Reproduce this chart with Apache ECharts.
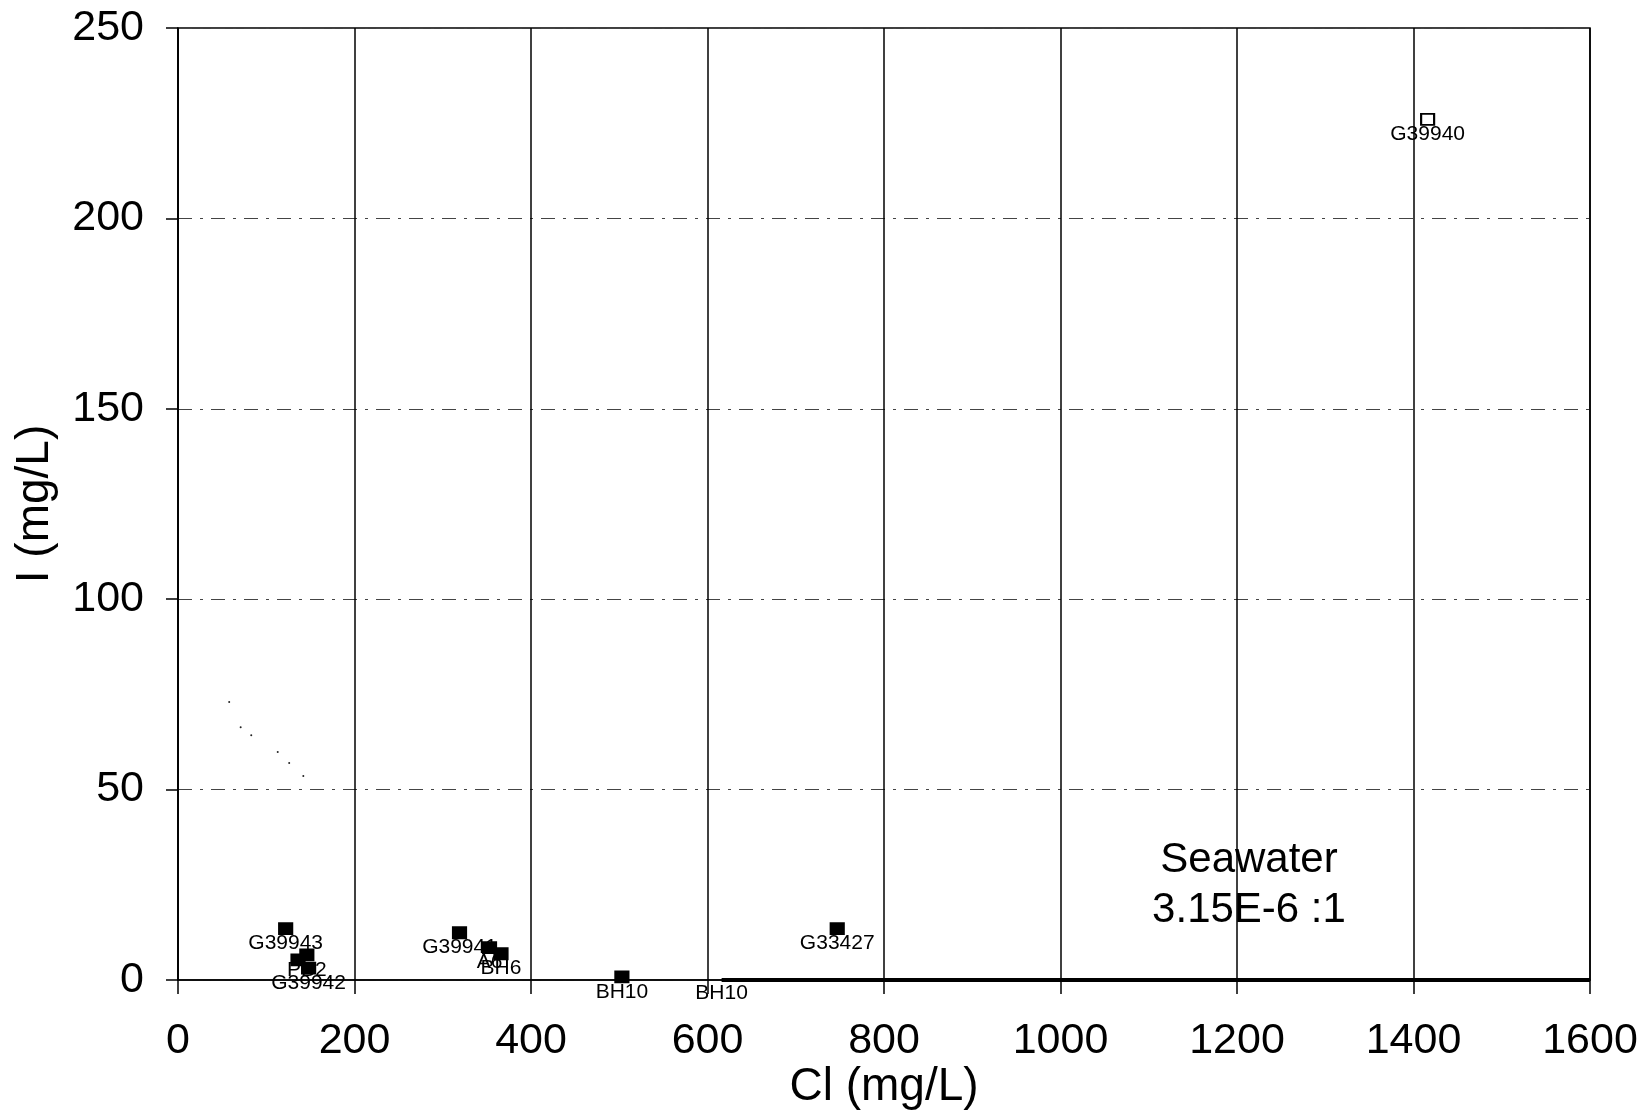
<!DOCTYPE html>
<html style="height: 100%">
<head>
<meta charset="utf-8">
<script src="https://cdn.jsdelivr.net/npm/echarts@6/dist/echarts.min.js"></script>
</head>
<body style="height: 100%; margin: 0; background: #fff">
<div id="container" style="width: 1643px; height: 1111px"></div>
<script type="text/javascript">
// sample points: Cl (mg/L), I (mg/L), label
var sampleNames = ['G39940', 'G39943', 'G39941', 'A6', 'BH6', 'BH10', 'G33427', '', 'PB2', 'G39942'];
var sampleCl    = [1416, 122, 319, 353, 366, 503, 747, 136, 146, 148];
var sampleI     = [226, 13.5, 12.4, 8.5, 6.9, 0.8, 13.5, 5.3, 6.6, 3.1];
var sampleFill  = ['#fff', '#000', '#000', '#000', '#000', '#000', '#000', '#000', '#000', '#000'];

// seawater ratio line (I/Cl = 3.15E-6)
var seaCl = [616, 1600];
var seaI  = [0.002, 0.005];
var seaLabel = 'BH10';

// faint dots upper left
var dotCl = [58, 71, 83, 113, 126, 142];
var dotI  = [73, 66.4, 64.3, 59.9, 57, 53.6];

var xTicks = [0, 200, 400, 600, 800, 1000, 1200, 1400, 1600];
var yTicks = [0, 50, 100, 150, 200, 250];

var font = 'Liberation Sans, Arial, sans-serif';

var samples = sampleNames.map(function (n, i) {
    return {
        name: n,
        value: [sampleCl[i], sampleI[i]],
        itemStyle: {color: sampleFill[i]}
    };
});

var chart = echarts.init(document.getElementById('container'));
var option = {
    backgroundColor: '#fff',
    animation: false,
    grid: {
        left: 178, right: 53, top: 28, bottom: 131,
        outerBoundsMode: 'none',
        containLabel: false,
        show: true, borderColor: '#000', borderWidth: 1.5
    },
    xAxis: {
        type: 'value',
        min: xTicks[0], max: xTicks[xTicks.length - 1], interval: 200,
        name: 'Cl (mg/L)',
        nameLocation: 'middle',
        nameGap: 84,
        nameMoveOverlap: false,
        nameTextStyle: {fontFamily: font, fontSize: 46, color: '#000'},
        axisLine: {lineStyle: {color: '#000', width: 1.5}},
        axisTick: {show: true, length: 14, inside: false, lineStyle: {color: '#000', width: 1.5}},
        axisLabel: {fontFamily: font, fontSize: 43, color: '#000', margin: 40,
            formatter: function (v) { return String(v); }},
        splitLine: {show: true, lineStyle: {color: '#000', width: 1.5}}
    },
    yAxis: {
        type: 'value',
        min: yTicks[0], max: yTicks[yTicks.length - 1], interval: 50,
        name: 'I (mg/L)',
        nameLocation: 'middle',
        nameGap: 120,
        nameTextStyle: {fontFamily: font, fontSize: 46, color: '#000'},
        axisLine: {lineStyle: {color: '#000', width: 1.5}},
        axisTick: {show: true, length: 12, lineStyle: {color: '#000', width: 1.5}},
        axisLabel: {fontFamily: font, fontSize: 43, color: '#000', margin: 34},
        splitLine: {show: true, lineStyle: {color: '#444', width: 1.2, type: [14, 8, 3, 8]}}
    },
    graphic: [
        {type: 'text', x: 1249, y: 860, style: {text: 'Seawater', font: '42px ' + font, fill: '#000', align: 'center', verticalAlign: 'middle'}},
        {type: 'text', x: 1249, y: 910, style: {text: '3.15E-6 :1', font: '42px ' + font, fill: '#000', align: 'center', verticalAlign: 'middle'}}
    ],
    series: [
        {
            type: 'line',
            data: seaCl.map(function (c, i) { return [c, seaI[i]]; }),
            symbol: 'none',
            lineStyle: {color: '#000', width: 4},
            z: 3
        },
        {
            type: 'scatter',
            data: [{name: seaLabel, value: [seaCl[0], seaI[0]]}],
            symbolSize: 1,
            itemStyle: {color: '#000', opacity: 1},
            label: {
                show: true, position: 'bottom', distance: 2,
                formatter: '{b}', fontFamily: font, fontSize: 21, color: '#000'
            },
            z: 4
        },
        {
            type: 'scatter',
            data: dotCl.map(function (c, i) { return [c, dotI[i]]; }),
            symbol: 'circle',
            symbolSize: 2,
            itemStyle: {color: '#222', opacity: 1}
        },
        {
            type: 'scatter',
            data: samples,
            symbol: 'rect',
            symbolSize: [13, 11],
            itemStyle: {borderColor: '#000', borderWidth: 2, opacity: 1},
            label: {
                show: true, position: 'bottom', distance: -2,
                formatter: '{b}', fontFamily: font, fontSize: 21, color: '#000'
            },
            z: 5
        }
    ]
};
chart.setOption(option);
</script>
</body>
</html>
